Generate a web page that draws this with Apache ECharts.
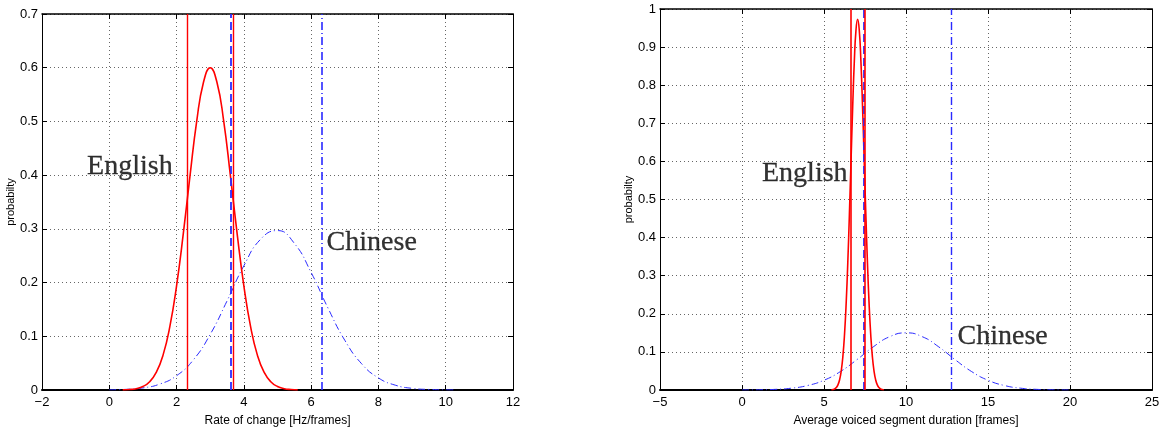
<!DOCTYPE html>
<html><head><meta charset="utf-8">
<script src="https://cdn.jsdelivr.net/npm/echarts@6/dist/echarts.min.js"></script>
<style>html,body{margin:0;padding:0;background:#fff}#c{width:1169px;height:432px}</style>
</head><body><div id="c"></div>
<script>
// ---------- Left panel: Rate of change [Hz/frames] ----------
const leftRedX = [0.4,0.6,0.8,1.0,1.2,1.4,1.6,1.8,2.0,2.2,2.4,2.6,2.8,3.0,3.2,3.4,3.6,3.8,4.0,4.2,4.4,4.6,4.8,5.0,5.2,5.4,5.6];
const leftRedY = [0.0003,0.0009,0.0025,0.0065,0.0154,0.0332,0.0654,0.118,0.194,0.291,0.399,0.501,0.573,0.6,0.573,0.501,0.399,0.291,0.194,0.118,0.0654,0.0332,0.0154,0.0065,0.0025,0.0009,0.0003];
const leftBlueX = [0,0.5,1.0,1.5,2.0,2.5,3.0,3.5,4.0,4.5,5.0,5.5,6.0,6.5,7.0,7.5,8.0,8.5,9.0,9.5,10.0,10.3];
const leftBlueY = [0.0003,0.0012,0.0039,0.011,0.0266,0.0562,0.1035,0.1658,0.2313,0.2808,0.2968,0.2731,0.2188,0.1526,0.0926,0.0489,0.0225,0.009,0.0031,0.001,0.0003,0.0001];
const leftRedVLines = [2.33, 3.67];
const leftBlueDashedVLines = [3.62];
const leftBlueDashDotVLines = [6.32];
const leftXTicks = {min: -2, max: 12, interval: 2};
const leftYTicks = {min: 0, max: 0.7, interval: 0.1};
const leftXLabel = 'Rate of change [Hz/frames]';
const leftAnnotations = [['English', -0.66, 0.415], ['Chinese', 6.46, 0.275]];

// ---------- Right panel: Average voiced segment duration [frames] ----------
const rightRedX = [5.45,5.55,5.65,5.75,5.85,5.95,6.05,6.15,6.25,6.35,6.45,6.55,6.65,6.75,6.85,6.95,7.05,7.15,7.25,7.35,7.45,7.55,7.65,7.75,7.85,7.95,8.05,8.15,8.25,8.35,8.45,8.55,8.65];
const rightRedY = [0.0005,0.0012,0.0029,0.0064,0.0134,0.0266,0.0497,0.0875,0.145,0.2265,0.3335,0.4626,0.6045,0.7444,0.8638,0.9445,0.973,0.9445,0.8638,0.7444,0.6045,0.4626,0.3335,0.2265,0.145,0.0875,0.0497,0.0266,0.0134,0.0064,0.0029,0.0012,0.0005];
const rightBlueX = [0,1,2,3,4,5,6,7,8,9,10,11,12,13,14,15,16,17,18,19,20];
const rightBlueY = [0.0001,0.0005,0.0016,0.0047,0.0118,0.0256,0.0484,0.0794,0.1131,0.1398,0.15,0.1398,0.1131,0.0794,0.0484,0.0256,0.0118,0.0047,0.0016,0.0005,0.0001];
const rightRedVLines = [6.63, 7.46];
const rightBlueDashedVLines = [7.40];
const rightBlueDashDotVLines = [12.74];
const rightXTicks = {min: -5, max: 25, interval: 5};
const rightYTicks = {min: 0, max: 1, interval: 0.1};
const rightXLabel = 'Average voiced segment duration [frames]';
const rightAnnotations = [['English', 1.22, 0.568], ['Chinese', 13.14, 0.14]];

const yName = 'probabilty';

const pairs = (xs, ys) => xs.map((x, i) => [x, ys[i]]);
const fmt = v => {
  let s = String(Math.round(v * 1000) / 1000);
  return s.replace('-', '\u2212');
};
const tickFont = {fontFamily: 'Liberation Sans, Arial, sans-serif', fontSize: 13, color: '#000'};
const BLUE = '#2a2aff';
const RED = '#ff0000';

function makeAxes(gi, xt, yt, xName, yGap) {
  const xa = [
    {gridIndex: gi, type: 'value', min: xt.min, max: xt.max, interval: xt.interval, position: 'bottom',
     name: xName, nameLocation: 'middle', nameGap: 25,
     nameTextStyle: {fontFamily: 'Liberation Sans, Arial, sans-serif', fontSize: 12, color: '#000'},
     axisLine: {show: true, onZero: false, lineStyle: {color: '#000', width: 2}},
     axisTick: {show: true, inside: true, length: 5, lineStyle: {color: '#000'}},
     axisLabel: Object.assign({margin: 6, formatter: fmt}, tickFont),
     splitLine: {show: true, lineStyle: {color: '#666', type: [1, 3], width: 1}}},
    {gridIndex: gi, type: 'value', min: xt.min, max: xt.max, interval: xt.interval, position: 'top',
     axisLine: {show: true, onZero: false, lineStyle: {color: '#000', width: 1.5}},
     axisTick: {show: true, inside: true, length: 5, lineStyle: {color: '#000'}},
     axisLabel: {show: false}, splitLine: {show: false}}
  ];
  const ya = [
    {gridIndex: gi, type: 'value', min: yt.min, max: yt.max, interval: yt.interval, position: 'left',
     name: yName, nameLocation: 'middle', nameGap: yGap,
     nameTextStyle: {fontFamily: 'Liberation Sans, Arial, sans-serif', fontSize: 11, color: '#000'},
     axisLine: {show: true, onZero: false, lineStyle: {color: '#000', width: 1}},
     axisTick: {show: true, inside: true, length: 5, lineStyle: {color: '#000'}},
     axisLabel: Object.assign({margin: 4, formatter: fmt}, tickFont),
     splitLine: {show: true, lineStyle: {color: '#666', type: [1, 3], width: 1}}},
    {gridIndex: gi, type: 'value', min: yt.min, max: yt.max, interval: yt.interval, position: 'right',
     axisLine: {show: true, onZero: false, lineStyle: {color: '#000', width: 1}},
     axisTick: {show: true, inside: true, length: 5, lineStyle: {color: '#000'}},
     axisLabel: {show: false}, splitLine: {show: false}}
  ];
  return {xa, ya};
}

function vLines(xi, yi, values, color, type, width) {
  return {type: 'line', xAxisIndex: xi, yAxisIndex: yi, data: [], silent: true,
    markLine: {symbol: 'none', silent: true, animation: false, label: {show: false},
      lineStyle: {color: color, type: type, width: width},
      emphasis: {disabled: true},
      data: values.map(v => ({xAxis: v}))}};
}
function curve(xi, yi, xs, ys, color, type, width) {
  return {type: 'line', xAxisIndex: xi, yAxisIndex: yi, data: pairs(xs, ys), smooth: true,
    showSymbol: false, symbol: 'none', lineStyle: {color: color, type: type, width: width}, silent: true};
}
function annots(xi, yi, list) {
  return {type: 'scatter', xAxisIndex: xi, yAxisIndex: yi, symbolSize: 0, silent: true,
    data: list.map(a => ({value: [a[1], a[2]], name: a[0]})),
    label: {show: true, position: 'right', distance: 0, formatter: p => p.name,
      fontFamily: 'Liberation Serif, Times New Roman, serif', fontSize: 28, color: '#000',
      textBorderColor: '#000', textBorderWidth: 0.3, verticalAlign: 'middle'}};
}

const L = makeAxes(0, leftXTicks, leftYTicks, leftXLabel, 25);
const R = makeAxes(1, rightXTicks, rightYTicks, rightXLabel, 23);

const DASHDOT = [7, 3, 1, 3];
const option = {
  backgroundColor: '#fff',
  animation: false,
  grid: [
    {left: 42, top: 14, width: 471, height: 377},
    {left: 660, top: 9, width: 492, height: 382}
  ],
  xAxis: [L.xa[0], L.xa[1], R.xa[0], R.xa[1]],
  yAxis: [L.ya[0], L.ya[1], R.ya[0], R.ya[1]],
  series: [
    curve(0, 0, leftBlueX, leftBlueY, BLUE, DASHDOT, 1),
    curve(0, 0, leftRedX, leftRedY, RED, 'solid', 1.6),
    vLines(0, 0, leftBlueDashedVLines, BLUE, [8, 4], 1.8),
    vLines(0, 0, leftBlueDashDotVLines, BLUE, [8, 3, 1, 3], 1.6),
    vLines(0, 0, leftRedVLines, RED, 'solid', 1.4),
    annots(0, 0, leftAnnotations),
    curve(2, 2, rightBlueX, rightBlueY, BLUE, DASHDOT, 1),
    curve(2, 2, rightRedX, rightRedY, RED, 'solid', 1.6),
    vLines(2, 2, rightBlueDashedVLines, BLUE, [8, 4], 1.8),
    vLines(2, 2, rightBlueDashDotVLines, BLUE, [8, 3, 1, 3], 1.4),
    vLines(2, 2, rightRedVLines, RED, 'solid', 1.6),
    annots(2, 2, rightAnnotations)
  ]
};
const chart = echarts.init(document.getElementById('c'), null, {renderer: 'canvas'});
chart.setOption(option);
</script></body></html>
